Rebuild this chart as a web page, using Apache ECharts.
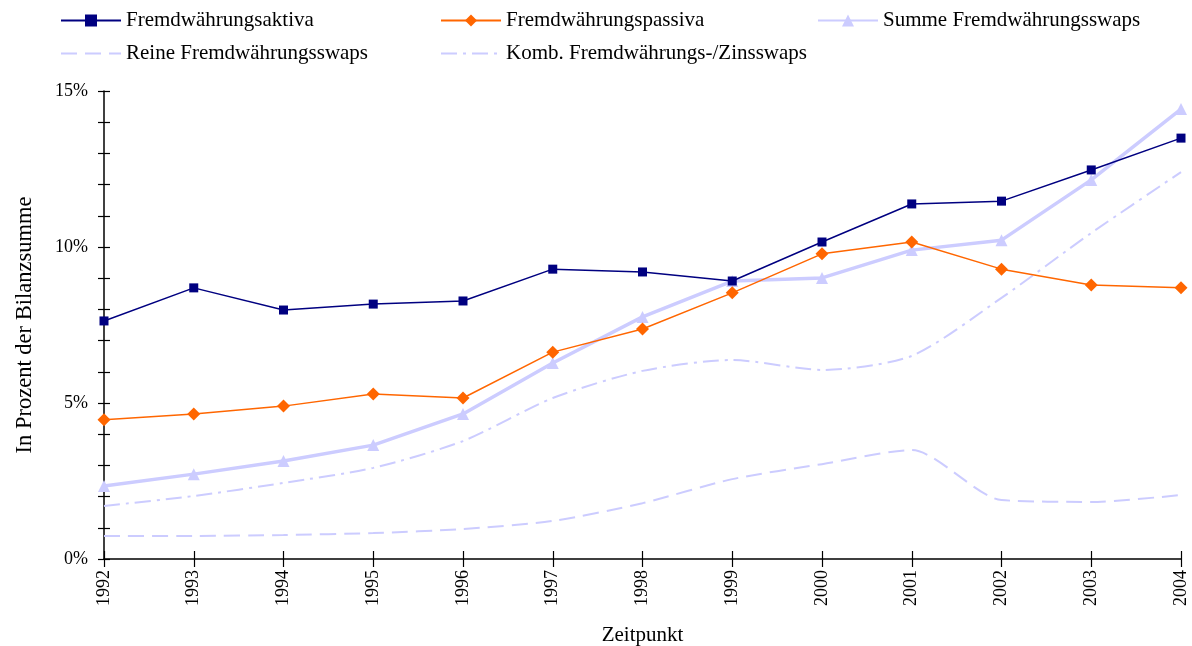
<!DOCTYPE html>
<html>
<head>
<meta charset="utf-8">
<script src="https://cdn.jsdelivr.net/npm/echarts@6/dist/echarts.min.js"></script>
<style>html,body{margin:0;padding:0;background:#fff}#c{width:1192px;height:646px}</style>
</head>
<body>
<div id="c"></div>
<script>
var years = ['1992','1993','1994','1995','1996','1997','1998','1999','2000','2001','2002','2003','2004'];
var aktiva  = [7.63, 8.69, 7.98, 8.17, 8.27, 9.29, 9.20, 8.91, 10.16, 11.38, 11.47, 12.47, 13.49];
var passiva = [4.46, 4.65, 4.90, 5.29, 5.16, 6.63, 7.37, 8.53, 9.78, 10.16, 9.29, 8.78, 8.69];
var summe   = [2.34, 2.72, 3.14, 3.65, 4.65, 6.28, 7.76, 8.91, 9.01, 9.90, 10.22, 12.15, 14.42];
var reine   = [0.74, 0.74, 0.77, 0.83, 0.96, 1.22, 1.79, 2.56, 3.04, 3.49, 1.89, 1.83, 2.05];
var komb    = [1.70, 2.02, 2.44, 2.92, 3.78, 5.16, 6.03, 6.38, 6.06, 6.51, 8.37, 10.45, 12.40];
var yTickLabels = ['0%', '5%', '10%', '15%'];

var FONT = 'Liberation Serif';
var legTxt = {fontFamily: FONT, fontSize: 21, color: '#000'};
function leg(name, left, top, hideSymbol) {
  var item = {name: name};
  if (hideSymbol) item.itemStyle = {opacity: 0};
  return {data: [item], left: left, top: top, padding: 0, itemWidth: 60, itemHeight: 15,
          textStyle: legTxt, selectedMode: false};
}
var chart = echarts.init(document.getElementById('c'), null, {renderer: 'canvas'});
chart.setOption({
  animation: false,
  backgroundColor: '#fff',
  legend: [
    leg('Fremdwährungsaktiva', 60, 10),
    leg('Fremdwährungspassiva', 440, 10),
    leg('Summe Fremdwährungsswaps', 817, 10),
    leg('Reine Fremdwährungsswaps', 60, 43, true),
    leg('Komb. Fremdwährungs-/Zinsswaps', 440, 43, true)
  ],
  grid: {left: 104, right: 11, top: 91, bottom: 87, containLabel: false, outerBoundsMode: 'none'},
  xAxis: [{
    type: 'category', data: years, boundaryGap: false,
    name: 'Zeitpunkt', nameLocation: 'middle', nameGap: 66,
    nameTextStyle: {fontFamily: FONT, fontSize: 21, color: '#000'},
    axisLine: {lineStyle: {color: '#000', width: 1.5}},
    axisTick: {show: true, inside: false, length: 8, lineStyle: {color: '#000', width: 1.2}},
    axisLabel: {rotate: 90, margin: 11, fontFamily: FONT, fontSize: 18, color: '#000'},
    splitLine: {show: false}
  }, {
    type: 'category', data: years, boundaryGap: false, position: 'bottom',
    axisLine: {show: false},
    axisTick: {show: true, inside: true, length: 8, lineStyle: {color: '#000', width: 1.2}},
    axisLabel: {show: false}, splitLine: {show: false}
  }],
  yAxis: [{
    type: 'value', min: 0, max: 15, interval: 1, position: 'left',
    name: 'In Prozent der Bilanzsumme', nameLocation: 'middle', nameGap: 67, nameRotate: 90,
    nameTextStyle: {fontFamily: FONT, fontSize: 22.5, color: '#000'},
    axisLine: {show: true, lineStyle: {color: '#000', width: 1.5}},
    axisTick: {show: true, inside: false, length: 6, lineStyle: {color: '#000', width: 1.2}},
    axisLabel: {margin: 16, fontFamily: FONT, fontSize: 18, color: '#000',
      formatter: function (v) { return v % 5 === 0 ? yTickLabels[v / 5] : ''; }},
    splitLine: {show: false}
  }, {
    type: 'value', min: 0, max: 15, interval: 1, position: 'left', offset: 0,
    axisLine: {show: false},
    axisTick: {show: true, inside: true, length: 6, lineStyle: {color: '#000', width: 1.2}},
    axisLabel: {show: false}, splitLine: {show: false}
  }],
  series: [
    {name: 'Reine Fremdwährungsswaps', type: 'line', data: reine, smooth: 0.25, symbol: 'none',
     lineStyle: {color: '#CCCCFF', width: 2, type: [16, 8]}, itemStyle: {color: '#CCCCFF'}, z: 2},
    {name: 'Komb. Fremdwährungs-/Zinsswaps', type: 'line', data: komb, smooth: 0.25, symbol: 'none',
     lineStyle: {color: '#CCCCFF', width: 2, type: [16, 6, 3, 6]}, itemStyle: {color: '#CCCCFF'}, z: 2},
    {name: 'Summe Fremdwährungsswaps', type: 'line', data: summe, symbol: 'triangle', symbolSize: 12,
     lineStyle: {color: '#CCCCFF', width: 3.5}, itemStyle: {color: '#CCCCFF'}, z: 3},
    {name: 'Fremdwährungspassiva', type: 'line', data: passiva, symbol: 'diamond', symbolSize: 13,
     lineStyle: {color: '#FF6600', width: 1.5}, itemStyle: {color: '#FF6600'}, z: 4},
    {name: 'Fremdwährungsaktiva', type: 'line', data: aktiva, symbol: 'rect', symbolSize: 9,
     lineStyle: {color: '#000080', width: 1.5}, itemStyle: {color: '#000080'}, z: 5}
  ]
});
</script>
</body>
</html>
